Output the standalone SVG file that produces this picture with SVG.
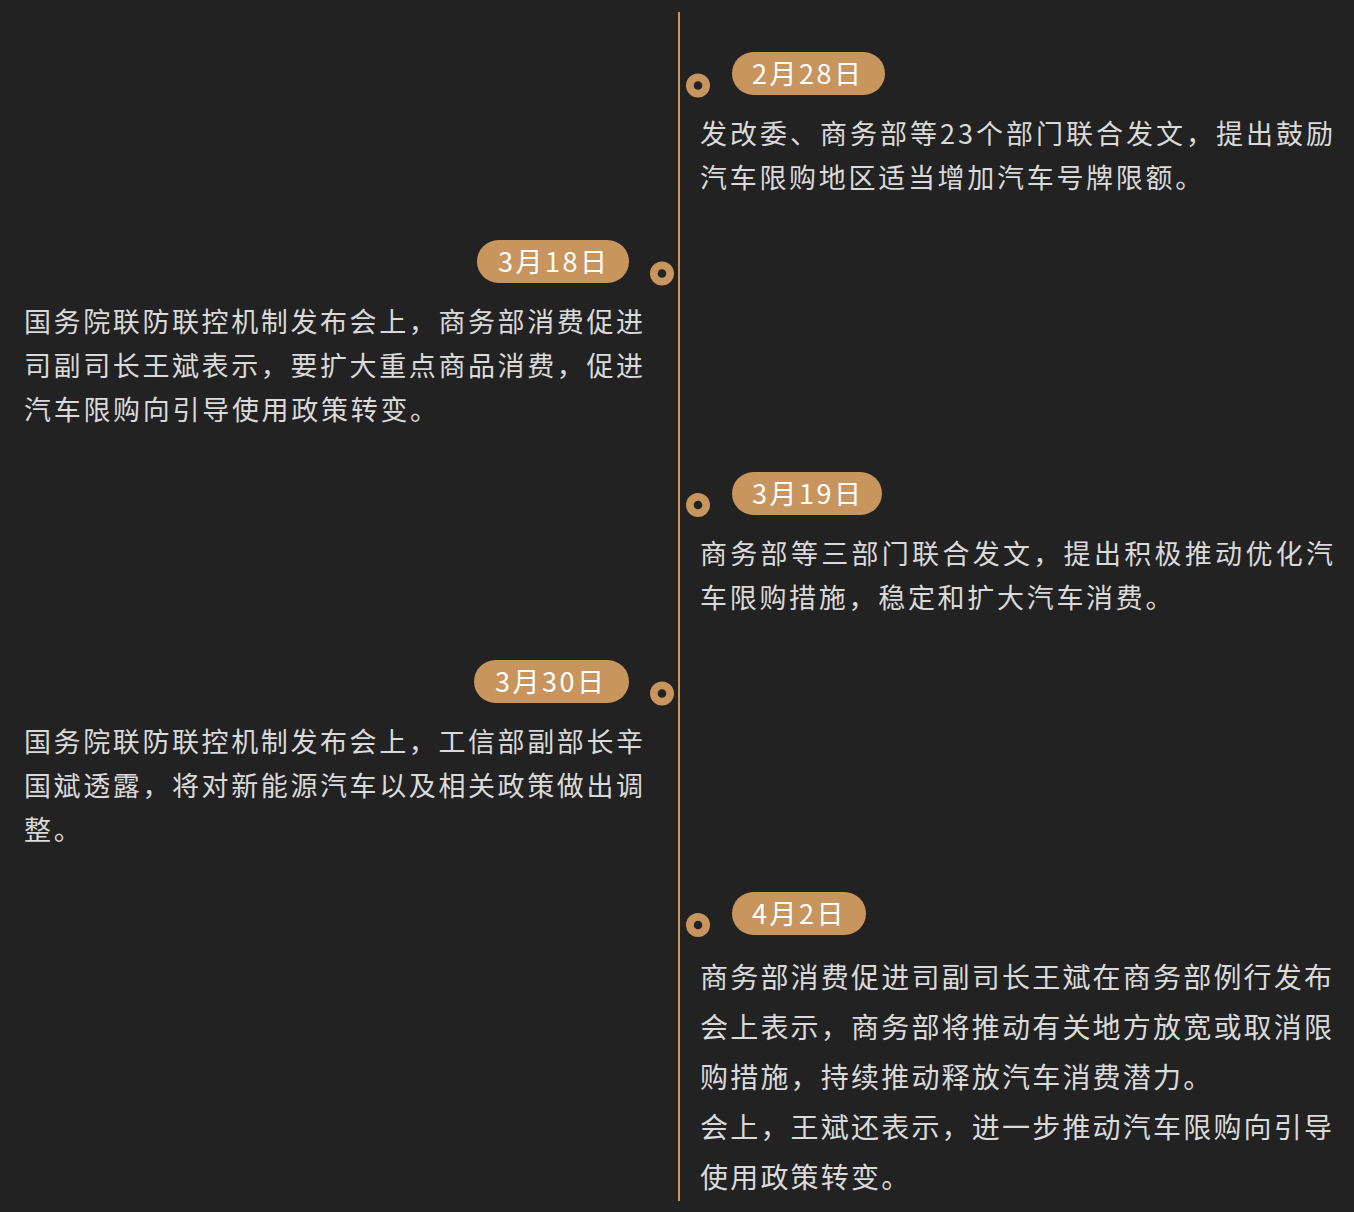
<svg xmlns="http://www.w3.org/2000/svg" width="1354" height="1212" viewBox="0 0 1354 1212">
<style>
.bg{fill:#222222}
.axis{stroke:#c8955f;stroke-width:2}
.pill{fill:#c8955f}
.dot{fill:#c8955f}
.hole{fill:#222222}
.date{font-family:"Noto Sans CJK SC","Noto Sans",sans-serif;font-size:27px;fill:#ffffff;letter-spacing:2.5px}
.body{font-family:"Noto Sans CJK SC",sans-serif;font-size:27px;fill:#dadada;letter-spacing:2.7px}
.body2{font-family:"Noto Sans CJK SC",sans-serif;font-size:28px;fill:#dadada;letter-spacing:2.2px}
.j{letter-spacing:0}
</style>
<rect class="bg" x="0" y="0" width="1354" height="1212"/>
<g id="connectors">
<line class="axis" x1="679" y1="12" x2="679" y2="1201"/>
</g>
<g id="event-0228">
<circle class="dot" cx="698" cy="85.5" r="12"/>
<circle class="hole" cx="698" cy="85.5" r="4.3"/>
<rect class="pill" x="732" y="52" width="153" height="43" rx="21.5"/>
<text class="date" x="752" y="83.5">2月28日</text>
<text class="body j" x="700" y="144" textLength="633" lengthAdjust="spacing">发改委、商务部等23个部门联合发文，提出鼓励</text>
<text class="body" x="700" y="188">汽车限购地区适当增加汽车号牌限额。</text>
</g>
<g id="event-0318">
<circle class="dot" cx="662" cy="273.5" r="12"/>
<circle class="hole" cx="662" cy="273.5" r="4.3"/>
<rect class="pill" x="477" y="240" width="152" height="43" rx="21.5"/>
<text class="date" x="498" y="271.5">3月18日</text>
<text class="body j" x="24" y="332" textLength="619" lengthAdjust="spacing">国务院联防联控机制发布会上，商务部消费促进</text>
<text class="body j" x="24" y="376" textLength="619" lengthAdjust="spacing">司副司长王斌表示，要扩大重点商品消费，促进</text>
<text class="body" x="24" y="420">汽车限购向引导使用政策转变。</text>
</g>
<g id="event-0319">
<circle class="dot" cx="698" cy="505" r="12"/>
<circle class="hole" cx="698" cy="505" r="4.3"/>
<rect class="pill" x="732" y="472" width="150" height="43" rx="21.5"/>
<text class="date" x="752" y="503.5">3月19日</text>
<text class="body j" x="700" y="564" textLength="633" lengthAdjust="spacing">商务部等三部门联合发文，提出积极推动优化汽</text>
<text class="body" x="700" y="608">车限购措施，稳定和扩大汽车消费。</text>
</g>
<g id="event-0330">
<circle class="dot" cx="662" cy="693.5" r="12"/>
<circle class="hole" cx="662" cy="693.5" r="4.3"/>
<rect class="pill" x="474" y="660" width="155" height="43" rx="21.5"/>
<text class="date" x="495" y="691.5">3月30日</text>
<text class="body j" x="24" y="752" textLength="619" lengthAdjust="spacing">国务院联防联控机制发布会上，工信部副部长辛</text>
<text class="body j" x="24" y="796" textLength="619" lengthAdjust="spacing">国斌透露，将对新能源汽车以及相关政策做出调</text>
<text class="body" x="24" y="840">整。</text>
</g>
<g id="event-0402">
<circle class="dot" cx="698" cy="925" r="12"/>
<circle class="hole" cx="698" cy="925" r="4.3"/>
<rect class="pill" x="732" y="892" width="134" height="43" rx="21.5"/>
<text class="date" x="752" y="923.5">4月2日</text>
<text class="body2 j" x="700" y="988" textLength="632" lengthAdjust="spacing">商务部消费促进司副司长王斌在商务部例行发布</text>
<text class="body2 j" x="700" y="1038" textLength="632" lengthAdjust="spacing">会上表示，商务部将推动有关地方放宽或取消限</text>
<text class="body2" x="700" y="1088">购措施，持续推动释放汽车消费潜力。</text>
<text class="body2 j" x="700" y="1138" textLength="632" lengthAdjust="spacing">会上，王斌还表示，进一步推动汽车限购向引导</text>
<text class="body2" x="700" y="1188">使用政策转变。</text>
</g>
</svg>
